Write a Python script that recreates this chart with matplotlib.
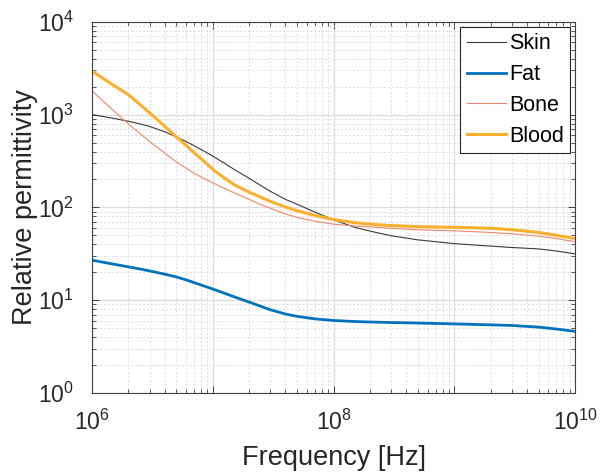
import matplotlib
matplotlib.use("Agg")
import matplotlib.pyplot as plt
from matplotlib.ticker import LogLocator, NullFormatter

plt.rcParams['font.family'] = ['Liberation Sans', 'DejaVu Sans']
plt.rcParams['mathtext.default'] = 'regular'

# frequency points [Hz]
freq = [1e6, 1.5e6, 2e6, 2.5e6, 3e6, 4e6, 5e6, 6e6, 7e6, 8.5e6,
        1e7, 1.25e7, 1.5e7, 2e7, 2.5e7, 3e7, 4e7, 5e7, 7e7,
        1e8, 1.5e8, 2e8, 3e8, 5e8, 1e9, 2e9, 3e9, 5e9, 7e9, 1e10]

# relative permittivity per tissue
skin = [1000, 912, 847, 794, 746, 653, 575, 513, 462, 403,
        357, 299, 257, 206, 172, 149, 122, 108, 89,
        73.5, 61, 55.6, 49.5, 44.7, 40.7, 38.3, 37, 35.7, 33.9, 31.6]
fat = [27, 24.5, 22.9, 21.7, 20.7, 19.1, 17.8, 16.6, 15.5, 14.2,
       13.2, 11.9, 10.9, 9.55, 8.6, 7.9, 7.1, 6.7, 6.3,
       6.05, 5.9, 5.83, 5.75, 5.68, 5.56, 5.43, 5.35, 5.13, 4.9, 4.62]
bone = [1803, 1109, 794, 624, 513, 385, 309, 265, 234, 204,
        184, 160, 144, 122, 107, 98, 85, 78, 71,
        66, 63, 61.7, 59.6, 57.3, 56, 53.7, 52, 49, 46.2, 42.7]
blood = [2938, 2080, 1641, 1282, 1047, 750, 575, 468, 389, 313,
         257, 207, 176, 146, 129, 116, 101, 92, 82,
         74, 68.4, 66, 63.8, 62, 61, 59.6, 57.5, 53.7, 50.1, 46.2]

fig = plt.figure(figsize=(6.01, 4.73), dpi=100)
ax = fig.add_axes([0.153, 0.169, 0.804, 0.785])

ax.plot(freq, skin, color='#3a3a3a', lw=0.8, label='Skin')
ax.plot(freq, fat, color='#0072BD', lw=2.0, label='Fat')
ax.plot(freq, bone, color='#F0876A', lw=0.8, label='Bone')
ax.plot(freq, blood, color='#FBB02D', lw=2.2, label='Blood')

ax.set_xscale('log')
ax.set_yscale('log')
ax.set_xlim(1e6, 1e10)
ax.set_ylim(1e0, 1e4)

ax.xaxis.set_minor_locator(LogLocator(base=10, subs=range(2, 10), numticks=20))
ax.yaxis.set_minor_locator(LogLocator(base=10, subs=range(2, 10), numticks=20))
ax.xaxis.set_minor_formatter(NullFormatter())
ax.yaxis.set_minor_formatter(NullFormatter())
ax.set_xticks([1e6, 1e7, 1e8, 1e9, 1e10])
ax.set_xticklabels(['$10^{6}$', '', '$10^{8}$', '', '$10^{10}$'])
ax.set_yticks([1e0, 1e1, 1e2, 1e3, 1e4])
ax.set_yticklabels(['$10^{0}$', '$10^{1}$', '$10^{2}$', '$10^{3}$', '$10^{4}$'])

ax.grid(True, which='major', color='#dcdcdc', lw=0.9, ls='-')
ax.grid(True, which='minor', color='#dcdcdc', lw=0.7, ls=(0, (2, 2)))
ax.set_axisbelow(True)

ax.tick_params(which='both', direction='in', top=True, right=True,
               color='#404040', labelsize=16.5, labelcolor='#262626')
ax.tick_params(which='major', length=5, width=0.7)
ax.tick_params(which='minor', length=3, width=0.6)
ax.tick_params(axis='x', pad=12)
ax.tick_params(axis='y', pad=13)
for s in ax.spines.values():
    s.set_color('#404040')
    s.set_linewidth(0.8)

ax.set_xlabel('Frequency [Hz]', fontsize=19.5, color='#262626', labelpad=7)
ax.set_ylabel('Relative permittivity', fontsize=19.5, color='#262626', labelpad=0)

leg = ax.legend(loc='upper right', fontsize=15.5, frameon=True, fancybox=False,
                edgecolor='#262626', framealpha=1, handlelength=1.8,
                handletextpad=0.15, borderpad=0.3, labelspacing=0.46,
                borderaxespad=0.23)
leg.get_frame().set_linewidth(0.8)

fig.savefig('out.png', dpi=100)
